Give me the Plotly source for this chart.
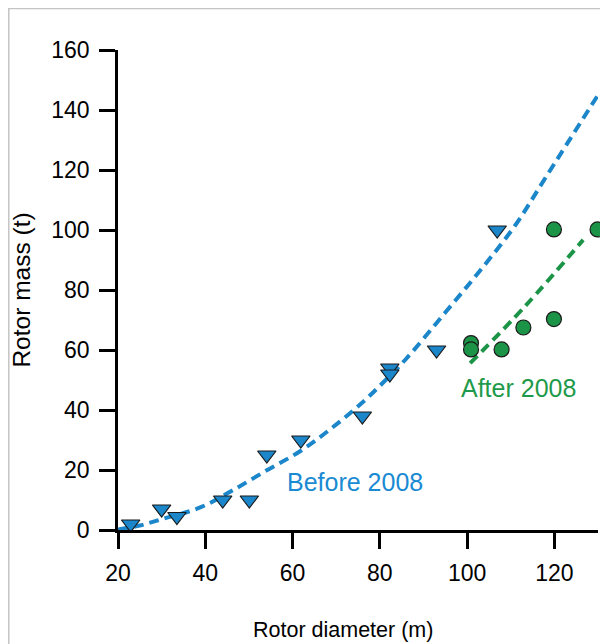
import plotly.graph_objects as go

# Before 2008 (triangles)
before_x = [22.9, 30.0, 33.5, 44.0, 50.1, 54.1, 61.9, 76.0, 82.3, 82.3, 93.0, 106.9]
before_y = [2.0, 7.0, 4.5, 10.0, 10.0, 25.0, 30.0, 38.0, 54.0, 52.0, 60.0, 100.0]

# After 2008 (circles)
after_x = [100.9, 100.9, 107.9, 112.9, 119.9, 119.9, 129.9]
after_y = [62.3, 60.2, 60.2, 67.5, 70.3, 100.2, 100.2]

# Trend curves
before_fit_x = [20, 25, 30, 39, 46, 54, 62, 69, 76, 81, 86, 95, 103, 111, 118, 130]
before_fit_y = [0.2, 1.5, 3.6, 7.6, 13.0, 19.8, 26.5, 34.0, 42.5, 49.5, 57.0, 72.5, 86.5, 101.5, 117.5, 145.0]
after_fit_x = [100.7, 113.3, 126.6]
after_fit_y = [55.6, 74.6, 96.7]

x_ticks = [20, 40, 60, 80, 100, 120]
y_ticks = [0, 20, 40, 60, 80, 100, 120, 140, 160]

BLUE = "#1b86c9"
BLUE_TXT = "#1a8ad3"
GREEN = "#1c9448"
GREEN_TXT = "#1f9a4a"
FONT = "Liberation Sans, Arial, sans-serif"

fig = go.Figure()
fig.add_trace(go.Scatter(x=before_fit_x, y=before_fit_y, mode="lines",
                         line=dict(color=BLUE, width=4, dash="10px,6px", shape="spline"),
                         hoverinfo="skip", showlegend=False))
fig.add_trace(go.Scatter(x=after_fit_x, y=after_fit_y, mode="lines",
                         line=dict(color=GREEN, width=4, dash="10px,6px", shape="spline"),
                         hoverinfo="skip", showlegend=False))
fig.add_trace(go.Scatter(x=before_x, y=before_y, mode="markers",
                         marker=dict(symbol="triangle-down", size=16, color=BLUE,
                                     line=dict(color="#1a1a1a", width=1.2)),
                         showlegend=False, cliponaxis=False))
fig.add_trace(go.Scatter(x=after_x, y=after_y, mode="markers",
                         marker=dict(symbol="circle", size=15, color=GREEN,
                                     line=dict(color="#1a1a1a", width=1.2)),
                         showlegend=False, cliponaxis=False))

fig.add_annotation(x=74.3, y=16, text="Before 2008", showarrow=False,
                   font=dict(family=FONT, size=25, color=BLUE_TXT), xanchor="center", yanchor="middle")
fig.add_annotation(x=111.8, y=47.3, text="After 2008", showarrow=False,
                   font=dict(family=FONT, size=25, color=GREEN_TXT), xanchor="center", yanchor="middle")

# x-axis title (sits slightly left of the plot centre in the reference)
fig.add_annotation(xref="paper", yref="paper", x=0.469, y=-0.2083, text="Rotor diameter (m)",
                   showarrow=False, xanchor="center", yanchor="middle",
                   font=dict(family=FONT, size=21.5, color="black"))

# light frame (top and left edges)
fig.add_shape(type="line", xref="paper", yref="paper", x0=-0.2292, x1=1.05, y0=1.0865, y1=1.0865,
              line=dict(color="#c4c4c4", width=1.5))
fig.add_shape(type="line", xref="paper", yref="paper", x0=-0.2275, x1=-0.2275, y0=1.0875, y1=-0.25,
              line=dict(color="#c4c4c4", width=1.5))

axis_common = dict(showgrid=False, zeroline=False, showline=True, linecolor="black", linewidth=2.5,
                   ticks="outside", ticklen=16, tickwidth=2.5, tickcolor="black",
                   ticklabelstandoff=5, automargin=False,
                   tickfont=dict(family=FONT, size=23, color="black"))

# page body has an 8px margin, so the figure is shifted by 8px
fig.update_layout(
    width=600, height=636,
    margin=dict(l=110, r=10, t=42, b=114),
    paper_bgcolor="white", plot_bgcolor="white",
    xaxis=dict(range=[20, 130], tickvals=x_ticks, **axis_common),
    yaxis=dict(range=[0, 160], tickvals=y_ticks, **axis_common,
               title=dict(text="Rotor mass (t)", font=dict(family=FONT, size=24.5, color="black"), standoff=15)),
)

fig.write_html("out.html")
